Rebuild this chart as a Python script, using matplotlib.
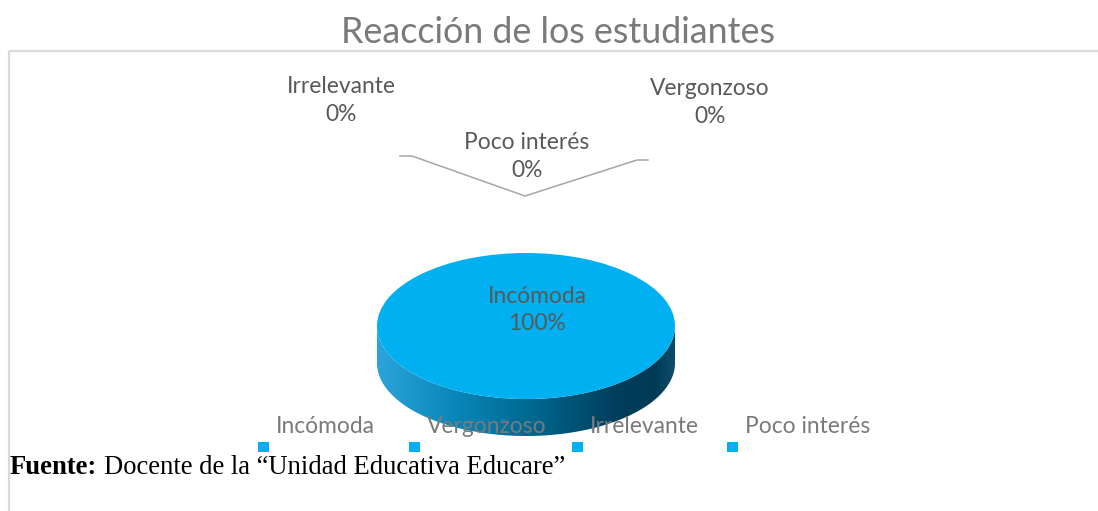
import numpy as np
import matplotlib
matplotlib.use("Agg")
import matplotlib.pyplot as plt
from matplotlib.font_manager import FontProperties
from matplotlib.textpath import TextPath
from matplotlib.colors import LinearSegmentedColormap
from matplotlib.patches import Rectangle, PathPatch
from matplotlib.path import Path

# ---------------- data ----------------
title = "Reacción de los estudiantes"
categories = ["Incómoda", "Vergonzoso", "Irrelevante", "Poco interés"]
values = [100, 0, 0, 0]
slice_colors = ["#00b0f0", "#00b0f0", "#00b0f0", "#00b0f0"]
source_bold = "Fuente:"
source_text = "Docente de la “Unidad Educativa Educare”"

# ---------------- layout ----------------
W, H, DPI = 1098, 511, 100
SANS = "Lato"
SERIF = "Liberation Serif"

fig = plt.figure(figsize=(W / DPI, H / DPI), dpi=DPI)
fig.patch.set_facecolor("white")


def fit(text, px, family, weight="normal"):
    tp = TextPath((0, 0), text, prop=FontProperties(family=family, weight=weight, size=100))
    w = tp.get_extents().width
    return px * 72.0 / DPI * 100.0 / w


# ---- 3D-looking pie ----
cx, cy, a, b, depth = 526, 326, 149, 73, 37
top_px = cy - b
bot_px = cy + b + depth
axp = fig.add_axes([(cx - a) / W, (H - bot_px) / H, 2 * a / W, (bot_px - top_px) / H])
wedges, _ = axp.pie(values, colors=slice_colors, startangle=90, counterclock=False,
                    radius=1, wedgeprops=dict(linewidth=0))
d = depth / b

side_cmap = LinearSegmentedColormap.from_list(
    "side", [(0.0, "#2ba4da"), (0.25, "#0a88bb"), (0.5, "#006a93"),
             (0.8, "#003f5c"), (0.93, "#003a55"), (1.0, "#0d4d6a")])
grad = np.linspace(0, 1, 512)[None, :]
for w in wedges:
    t1, t2 = w.theta1, w.theta2
    if t2 - t1 <= 0:
        continue
    ts = np.linspace(t1, t2, 721)
    tm = np.mod(ts, 360)
    front = ts[(tm >= 180) & (tm <= 360)]
    if len(front) < 2:
        continue
    th = np.radians(np.sort(np.mod(front, 360)))
    xs, ys = np.cos(th), np.sin(th)
    verts = np.concatenate([np.column_stack([xs, ys]),
                            np.column_stack([xs[::-1], ys[::-1] - d]),
                            [[xs[0], ys[0]]]])
    codes = [Path.MOVETO] + [Path.LINETO] * (len(verts) - 2) + [Path.CLOSEPOLY]
    clip = PathPatch(Path(verts, codes), transform=axp.transData, facecolor="none", edgecolor="none")
    axp.add_patch(clip)
    im = axp.imshow(grad, extent=[-1, 1, -1 - d, 0], aspect="auto", cmap=side_cmap, zorder=0)
    im.set_clip_path(clip)

axp.set_aspect("auto")
axp.set_xlim(-1, 1)
axp.set_ylim(-1 - d, 1)
axp.axis("off")

# ---- overlay in pixel coordinates ----
ax = fig.add_axes([0, 0, 1, 1])
ax.set_xlim(0, W)
ax.set_ylim(H, 0)
ax.axis("off")
ax.patch.set_alpha(0)

# chart border (top and left visible)
ax.plot([9, W + 2], [51, 51], color="#d9d9d9", lw=1.6, solid_capstyle="butt")
ax.plot([9, 9], [51, H + 2], color="#d9d9d9", lw=1.6, solid_capstyle="butt")

# title
ax.text(558, 43, title, ha="center", va="baseline", family=SANS,
        fontsize=fit(title, 430, SANS), color="#7a7a7a")

# data labels
lab_fs = fit("Poco interés", 122, SANS)
label_pos = {
    "Incómoda": (537, 303, 330),
    "Irrelevante": (341, 93, 121),
    "Vergonzoso": (710, 95, 123),
    "Poco interés": (527, 149, 177),
}
total = float(sum(values))
for cat, v in zip(categories, values):
    x, y1, y2 = label_pos[cat]
    ax.text(x, y1, cat, ha="center", va="baseline", family=SANS, fontsize=lab_fs, color="#595959")
    ax.text(x, y2, f"{v / total * 100:.0f}%", ha="center", va="baseline", family=SANS,
            fontsize=lab_fs, color="#595959")

# leader line
ax.plot([400, 412, 525, 637, 648], [156, 156, 196, 160, 160], color="#a6a6a6", lw=1.1)

# legend (markers are displaced below their texts, as in the reference)
leg_x = [276, 427, 590, 745]
for cat, col, x in zip(categories, slice_colors, leg_x):
    ax.text(x, 433, cat, ha="left", va="baseline", family=SANS, fontsize=lab_fs, color="#7a7a7a")
    ax.add_patch(Rectangle((x - 18, 442), 11, 10, facecolor=col, edgecolor="none", zorder=3))

# source note
src_fs = fit(source_text, 459, SERIF)
ax.text(10, 474, source_bold, ha="left", va="baseline", family=SERIF, weight="bold",
        fontsize=src_fs, color="black")
ax.text(104, 474, source_text, ha="left", va="baseline", family=SERIF,
        fontsize=src_fs, color="black")

fig.savefig("out.png", dpi=DPI, facecolor="white")
